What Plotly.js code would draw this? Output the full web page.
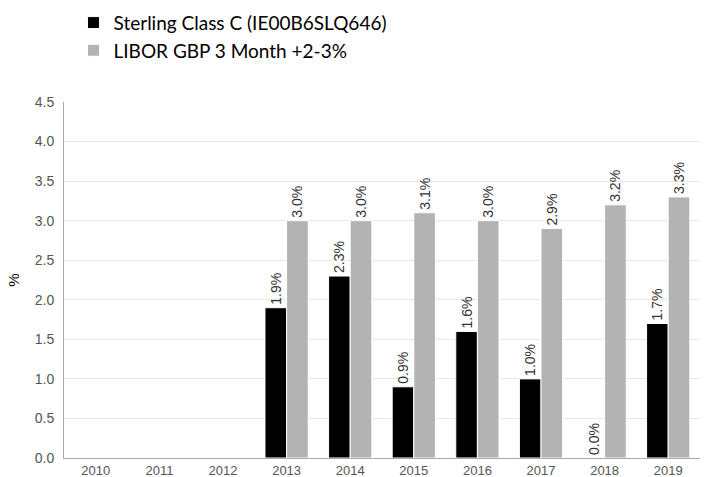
<!DOCTYPE html>
<html>
<head>
<meta charset="utf-8">
<script src="https://cdn.plot.ly/plotly-3.0.1.min.js"></script>
<style>html,body{margin:0;padding:0;background:#fff;}#chart{width:704px;height:477px;}</style>
</head>
<body>
<div id="chart"></div>
<script>
var years = ['2010','2011','2012','2013','2014','2015','2016','2017','2018','2019'];
var sterling = [null, null, null, 1.9, 2.3, 0.9, 1.6, 1.0, 0.0, 1.7];
var libor = [null, null, null, 3.0, 3.0, 3.1, 3.0, 2.9, 3.2, 3.3];
var seriesNames = ['Sterling Class C (IE00B6SLQ646)', 'LIBOR GBP 3 Month +2-3%'];

var SANS = '"Liberation Sans", Arial, sans-serif';

function mk(vals, name, color) {
  return {
    type: 'bar', x: years, y: vals, name: name,
    marker: {color: color, line: {color: '#ffffff', width: 1}},
    texttemplate: '%{y:.1f}%', textposition: 'outside', textangle: -90,
    constraintext: 'none',
    textfont: {family: SANS, size: 14, color: '#333333'},
    cliponaxis: false, hoverinfo: 'skip'
  };
}

var data = [mk(sterling, seriesNames[0], '#000000'), mk(libor, seriesNames[1], '#b3b3b3')];

var layout = {
  width: 704, height: 477,
  margin: {l: 64, r: 4, t: 98, b: 19},
  font: {family: SANS},
  paper_bgcolor: '#ffffff', plot_bgcolor: '#ffffff',
  barmode: 'group', bargap: 0.32, bargroupgap: 0,
  showlegend: true,
  legend: {
    x: 0.015, y: 1.276, xanchor: 'left', yanchor: 'top',
    font: {family: 'Lato, Carlito, sans-serif', size: 19, color: '#000000'},
    tracegroupgap: 0, itemwidth: 30, bgcolor: 'rgba(0,0,0,0)'
  },
  xaxis: {
    type: 'category', showgrid: false, showline: true, linecolor: '#aaaaaa', linewidth: 1,
    ticks: '', automargin: false, ticklabelstandoff: 0,
    tickfont: {family: SANS, size: 13, color: '#555555'}
  },
  yaxis: {
    range: [0, 4.5], dtick: 0.5, tickformat: '.1f', showgrid: true, gridcolor: '#e8e8e8',
    showline: true, linecolor: '#aaaaaa', linewidth: 1, zeroline: false, ticks: '', automargin: false,
    ticklabelstandoff: 6,
    tickfont: {family: SANS, size: 14, color: '#555555'},
    title: {text: '%', standoff: 11, font: {family: SANS, size: 15, color: '#000000'}}
  }
};

Plotly.newPlot('chart', data, layout, {displayModeBar: false, staticPlot: true});
</script>
</body>
</html>
